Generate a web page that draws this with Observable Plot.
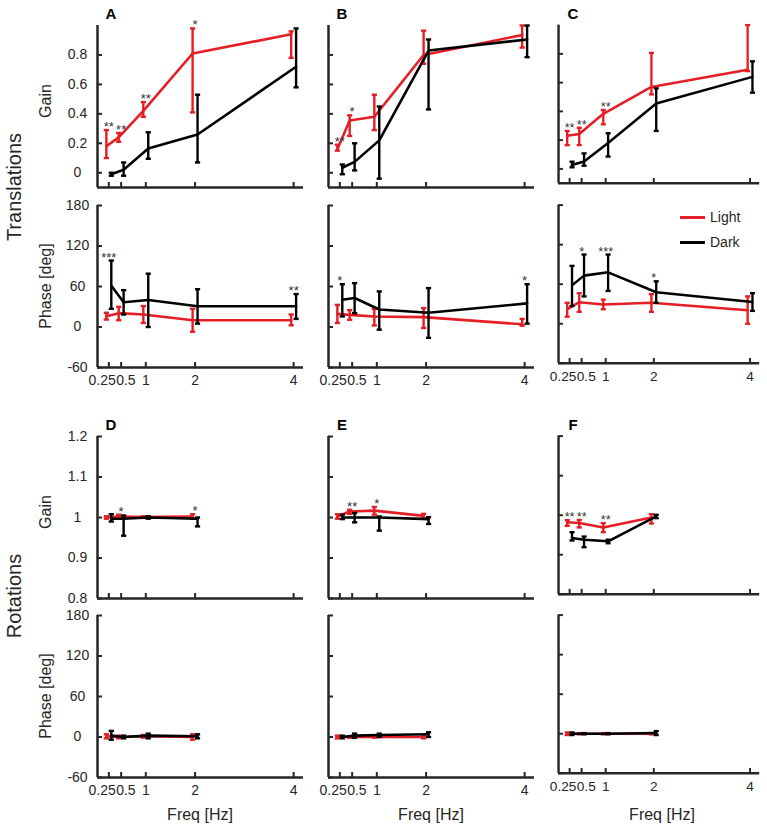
<!DOCTYPE html>
<html>
<head>
<meta charset="utf-8">
<script src="https://cdn.jsdelivr.net/npm/d3@7"></script>
<script src="https://cdn.jsdelivr.net/npm/@observablehq/plot@0.6"></script>
<style>
  html, body { margin: 0; padding: 0; background: #fff; }
  #fig { position: relative; width: 767px; height: 824px; overflow: hidden; background: #fff;
         font-family: Arial, "Liberation Sans", Helvetica, sans-serif; color: #262626; }
  .pnl { position: absolute; }
  .lbl { position: absolute; white-space: nowrap; transform: translate(-50%, -50%); line-height: 1; }
  .rot { transform: translate(-50%, -50%) rotate(-90deg); }
  .sw { position: absolute; height: 3px; }
</style>
</head>
<body>
<div id="fig"></div>
<script>
// ---------------- data ----------------
const freqs = [0.25, 0.5, 1, 2, 4];
const rotFreqs = [0.25, 0.5, 1, 2];
const freqTickLabels = ["0.25", "0.5", "1", "2", "4"];

const gainTicksT = [0, 0.2, 0.4, 0.6, 0.8];
const phaseTicks = [-60, 0, 60, 120, 180];
const gainTicksR = [0.8, 0.9, 1, 1.1, 1.2];

// Translations – gain (A, B, C)
const tGainA_light   = [0.18, 0.24, 0.42, 0.81, 0.94];
const tGainA_lightLo = [0.10, 0.21, 0.38, 0.41, 0.78];
const tGainA_lightHi = [0.29, 0.27, 0.48, 0.98, 0.96];
const tGainA_dark    = [-0.01, 0.02, 0.165, 0.26, 0.72];
const tGainA_darkLo  = [-0.02, -0.02, 0.095, 0.07, 0.58];
const tGainA_darkHi  = [0.0, 0.07, 0.275, 0.53, 0.98];
const tGainA_stars   = ["**", "**", "**", "*", ""];

const tGainB_light   = [0.16, 0.355, 0.38, 0.80, 0.935];
const tGainB_lightLo = [0.15, 0.25, 0.29, 0.74, 0.85];
const tGainB_lightHi = [0.19, 0.39, 0.53, 0.965, 1.0];
const tGainB_dark    = [0.034, 0.074, 0.22, 0.83, 0.905];
const tGainB_darkLo  = [-0.01, 0.016, -0.04, 0.43, 0.785];
const tGainB_darkHi  = [0.056, 0.2, 0.45, 0.905, 1.0];
const tGainB_stars   = ["**", "*", "", "", ""];

const tGainC_light   = [0.23, 0.243, 0.383, 0.57, 0.69];
const tGainC_lightLo = [0.165, 0.165, 0.31, 0.518, 0.68];
const tGainC_lightHi = [0.264, 0.286, 0.41, 0.807, 1.0];
const tGainC_dark    = [0.027, 0.052, 0.18, 0.455, 0.64];
const tGainC_darkLo  = [0.011, 0.022, 0.086, 0.264, 0.53];
const tGainC_darkHi  = [0.05, 0.108, 0.248, 0.56, 0.748];
const tGainC_stars   = ["**", "**", "**", "", ""];

// Translations – phase (A, B, C)
const tPhaseA_light   = [16, 20.5, 18.5, 10, 10];
const tPhaseA_lightLo = [11, 10, 6, -7, 2.5];
const tPhaseA_lightHi = [21, 30, 31, 27, 18.5];
const tPhaseA_dark    = [61, 36.6, 40, 30.7, 30.7];
const tPhaseA_darkLo  = [27, 18.5, 0, 5, 12];
const tPhaseA_darkHi  = [98.5, 54.6, 79, 56, 48.8];
const tPhaseA_stars   = ["***", "", "", "", "**"];

const tPhaseB_light   = [19.5, 18, 15.6, 14.6, 4];
const tPhaseB_lightLo = [6, 10.7, 2.4, -1.5, 2];
const tPhaseB_lightHi = [32.7, 25, 27, 28, 12];
const tPhaseB_dark    = [40.5, 43, 26, 21, 35];
const tPhaseB_darkLo  = [15.6, 20.5, -4, -16, 5];
const tPhaseB_darkHi  = [63.4, 65, 52.7, 57.6, 63.4];
const tPhaseB_stars   = ["*", "", "", "", "*"];

const tPhaseC_light   = [22, 32.7, 29.3, 31.7, 20.5];
const tPhaseC_lightLo = [10.7, 18, 22, 18, 0];
const tPhaseC_lightHi = [31.7, 46.3, 36.6, 44.9, 41.5];
const tPhaseC_dark    = [58.5, 73, 78, 47.8, 33];
const tPhaseC_darkLo  = [26.8, 41.5, 49.8, 31.7, 19.5];
const tPhaseC_darkHi  = [87.8, 105, 105, 64.4, 46.3];
const tPhaseC_stars   = ["", "*", "***", "*", ""];

// Rotations – gain (D, E, F)
const rGainD_light   = [1.0, 1.0025, 1.001, 1.0025];
const rGainD_lightLo = [0.997, 0.998, 0.999, 0.997];
const rGainD_lightHi = [1.003, 1.007, 1.003, 1.008];
const rGainD_dark    = [0.997, 0.997, 1.0, 0.997];
const rGainD_darkLo  = [0.99, 0.955, 0.997, 0.978];
const rGainD_darkHi  = [1.008, 1.005, 1.003, 1.0];
const rGainD_stars   = ["", "*", "", "*"];

const rGainE_light   = [1.0025, 1.015, 1.017, 1.004];
const rGainE_lightLo = [0.997, 1.009, 1.007, 0.998];
const rGainE_lightHi = [1.008, 1.019, 1.026, 1.009];
const rGainE_dark    = [1.0, 1.0, 1.0, 0.996];
const rGainE_darkLo  = [0.996, 0.988, 0.9675, 0.984];
const rGainE_darkHi  = [1.007, 1.011, 1.0025, 1.001];
const rGainE_stars   = ["", "**", "*", ""];

const rGainF_light   = [0.982, 0.98, 0.969, 0.994];
const rGainF_lightLo = [0.973, 0.969, 0.957, 0.979];
const rGainF_lightHi = [0.9875, 0.988, 0.98, 1.0025];
const rGainF_dark    = [0.9425, 0.938, 0.934, 0.997];
const rGainF_darkLo  = [0.936, 0.919, 0.929, 0.9925];
const rGainF_darkHi  = [0.957, 0.946, 0.938, 1.001];
const rGainF_stars   = ["**", "**", "**", ""];

// Rotations – phase (D, E, F)
const rPhaseD_light   = [1, 0, 1, 0];
const rPhaseD_lightLo = [-2, -2, -1, -4];
const rPhaseD_lightHi = [4, 2, 3, 4];
const rPhaseD_dark    = [2, 0, 2, 1];
const rPhaseD_darkLo  = [-4, -2, -2, -2];
const rPhaseD_darkHi  = [9, 2, 5, 4];
const rPhaseD_stars   = ["", "", "", ""];

const rPhaseE_light   = [0, 0, 0, 0];
const rPhaseE_lightLo = [-2, -1, -1, -2];
const rPhaseE_lightHi = [2, 1, 1, 2];
const rPhaseE_dark    = [0, 2, 3, 4];
const rPhaseE_darkLo  = [-2, -1, 0, 0];
const rPhaseE_darkHi  = [2, 5, 5, 7];
const rPhaseE_stars   = ["", "", "", ""];

const rPhaseF_light   = [0, 0, 0, 0];
const rPhaseF_lightLo = [-2, -1, -1, -1];
const rPhaseF_lightHi = [2, 1, 1, 1];
const rPhaseF_dark    = [0, 0, 0, 1];
const rPhaseF_darkLo  = [-2, -1, -1, -2];
const rPhaseF_darkHi  = [2, 1, 1, 4];
const rPhaseF_stars   = ["", "", "", ""];

const seriesNames = ["Light", "Dark"];
const panelLetters = ["A", "B", "C", "D", "E", "F"];
const rowTitles = ["Translations", "Rotations"];

// ---------------- style / layout ----------------
const AXIS = "#262626";
const RED = "#e41e24";
const BLACK = "#000000";
const X_DOMAIN = [0.02, 4.2];
const DODGE = 0.05;
const FW = 206, FH = 162;
const ML = 40, MR = 8, MT = 16, MB = 30;
const colLeft = [97, 328, 559];
const rowTop = [25, 205, 436, 615];
const FONT = 'Arial, "Liberation Sans", Helvetica, sans-serif';

const fig = document.getElementById("fig");

const capSymbol = {
  draw(ctx, size) {
    const r = Math.sqrt(size / Math.PI);
    ctx.moveTo(-r, 0);
    ctx.lineTo(r, 0);
  }
};

function seriesMarks(data, color) {
  return [
    Plot.ruleX(data, {x: "x", y1: "lo", y2: "hi", stroke: color, strokeWidth: 2.4}),
    Plot.dot(data, {x: "x", y: "lo", symbol: capSymbol, r: 2.6, stroke: color, strokeWidth: 2.4, fill: "none"}),
    Plot.dot(data, {x: "x", y: "hi", symbol: capSymbol, r: 2.6, stroke: color, strokeWidth: 2.4, fill: "none"}),
    Plot.line(data, {x: "x", y: "y", stroke: color, strokeWidth: 2.6})
  ];
}

function panel(o) {
  const L = o.fr.map((f, i) => ({x: f - DODGE, y: o.light[i], lo: o.lightLo[i], hi: o.lightHi[i]}));
  const D = o.fr.map((f, i) => ({x: f + DODGE, y: o.dark[i], lo: o.darkLo[i], hi: o.darkHi[i]}));
  const S = o.fr.map((f, i) => ({x: f, y: Math.max(o.lightHi[i], o.darkHi[i]), t: o.stars[i]})).filter(d => d.t);
  const lab = d => freqTickLabels[freqs.indexOf(d)];
  const marks = [
    Plot.ruleX([X_DOMAIN[0]], {stroke: AXIS, strokeWidth: 2.5}),
    Plot.ruleY([o.yDomain[0]], {stroke: AXIS, strokeWidth: 2.5}),
    Plot.tickX(freqs, {x: d => d, insetTop: FH - 5, stroke: AXIS, strokeWidth: 2}),
    Plot.tickY(o.yTicks, {y: d => d, insetRight: FW - 5, stroke: AXIS, strokeWidth: 2}),
    ...seriesMarks(L, RED),
    ...seriesMarks(D, BLACK),
    Plot.text(S, {x: "x", y: "y", text: "t", lineAnchor: "bottom", dy: 1, fontSize: 13, fill: "#333"})
  ];
  if (o.xLabels) {
    const common = {tickSize: 0, tickPadding: 8, fontSize: 14, fill: AXIS, tickFormat: lab, label: null};
    marks.push(
      Plot.axisX([1, 2, 4], {...common}),
      Plot.axisX([0.25], {...common, textAnchor: "end", dx: 7}),
      Plot.axisX([0.5], {...common, textAnchor: "start", dx: -5})
    );
  }
  if (o.yLabels) {
    marks.push(Plot.axisY(o.yTicks, {tickSize: 0, tickPadding: 20, textAnchor: "middle", fontSize: 14,
      fill: AXIS, label: null, tickFormat: d => String(d)}));
  }
  const svg = Plot.plot({
    width: ML + FW + MR, height: MT + FH + MB,
    marginLeft: ML, marginRight: MR, marginTop: MT, marginBottom: MB,
    style: {background: "transparent", overflow: "visible", fontFamily: FONT, color: AXIS},
    x: {domain: X_DOMAIN, axis: null},
    y: {domain: o.yDomain, axis: null},
    marks
  });
  const wrap = document.createElement("div");
  wrap.className = "pnl";
  wrap.style.left = (colLeft[o.col] - ML) + "px";
  wrap.style.top = (rowTop[o.row] - MT) + "px";
  wrap.appendChild(svg);
  fig.appendChild(wrap);
}

const P = (row, col, fr, yDomain, yTicks, light, lightLo, lightHi, dark, darkLo, darkHi, stars) =>
  panel({row, col, fr, yDomain, yTicks, light, lightLo, lightHi, dark, darkLo, darkHi, stars,
         xLabels: row === 1 || row === 3, yLabels: col === 0});

P(0, 0, freqs, [-0.1, 1.0], gainTicksT, tGainA_light, tGainA_lightLo, tGainA_lightHi, tGainA_dark, tGainA_darkLo, tGainA_darkHi, tGainA_stars);
P(0, 1, freqs, [-0.1, 1.0], gainTicksT, tGainB_light, tGainB_lightLo, tGainB_lightHi, tGainB_dark, tGainB_darkLo, tGainB_darkHi, tGainB_stars);
P(0, 2, freqs, [-0.1, 1.0], gainTicksT, tGainC_light, tGainC_lightLo, tGainC_lightHi, tGainC_dark, tGainC_darkLo, tGainC_darkHi, tGainC_stars);
P(1, 0, freqs, [-60, 180], phaseTicks, tPhaseA_light, tPhaseA_lightLo, tPhaseA_lightHi, tPhaseA_dark, tPhaseA_darkLo, tPhaseA_darkHi, tPhaseA_stars);
P(1, 1, freqs, [-60, 180], phaseTicks, tPhaseB_light, tPhaseB_lightLo, tPhaseB_lightHi, tPhaseB_dark, tPhaseB_darkLo, tPhaseB_darkHi, tPhaseB_stars);
P(1, 2, freqs, [-60, 180], phaseTicks, tPhaseC_light, tPhaseC_lightLo, tPhaseC_lightHi, tPhaseC_dark, tPhaseC_darkLo, tPhaseC_darkHi, tPhaseC_stars);
P(2, 0, rotFreqs, [0.8, 1.2], gainTicksR, rGainD_light, rGainD_lightLo, rGainD_lightHi, rGainD_dark, rGainD_darkLo, rGainD_darkHi, rGainD_stars);
P(2, 1, rotFreqs, [0.8, 1.2], gainTicksR, rGainE_light, rGainE_lightLo, rGainE_lightHi, rGainE_dark, rGainE_darkLo, rGainE_darkHi, rGainE_stars);
P(2, 2, rotFreqs, [0.8, 1.2], gainTicksR, rGainF_light, rGainF_lightLo, rGainF_lightHi, rGainF_dark, rGainF_darkLo, rGainF_darkHi, rGainF_stars);
P(3, 0, rotFreqs, [-60, 180], phaseTicks, rPhaseD_light, rPhaseD_lightLo, rPhaseD_lightHi, rPhaseD_dark, rPhaseD_darkLo, rPhaseD_darkHi, rPhaseD_stars);
P(3, 1, rotFreqs, [-60, 180], phaseTicks, rPhaseE_light, rPhaseE_lightLo, rPhaseE_lightHi, rPhaseE_dark, rPhaseE_darkLo, rPhaseE_darkHi, rPhaseE_stars);
P(3, 2, rotFreqs, [-60, 180], phaseTicks, rPhaseF_light, rPhaseF_lightLo, rPhaseF_lightHi, rPhaseF_dark, rPhaseF_darkLo, rPhaseF_darkHi, rPhaseF_stars);

// ---------------- text labels ----------------
function label(text, x, y, size, opts = {}) {
  const d = document.createElement("div");
  d.className = "lbl" + (opts.rot ? " rot" : "");
  d.textContent = text;
  d.style.left = x + "px";
  d.style.top = y + "px";
  d.style.fontSize = size + "px";
  if (opts.bold) d.style.fontWeight = "bold";
  if (opts.color) d.style.color = opts.color;
  fig.appendChild(d);
}

panelLetters.forEach((t, i) => {
  const col = i % 3, row = i < 3 ? 0 : 2;
  label(t, colLeft[col] + 14, rowTop[row] - 12, 15, {bold: true, color: "#000"});
});

label(rowTitles[0], 14, 187, 20, {rot: true});
label(rowTitles[1], 14, 596, 20, {rot: true});
[0, 2].forEach(r => label("Gain", 46, rowTop[r] + FH * 0.47, 16, {rot: true}));
[1, 3].forEach(r => label("Phase [deg]", 46, rowTop[r] + FH * 0.5, 16, {rot: true}));
colLeft.forEach(x => label("Freq [Hz]", x + 103, 815, 16));

// legend (panel C phase)
[[RED, 217], [BLACK, 242]].forEach(([c, y], i) => {
  const s = document.createElement("div");
  s.className = "sw";
  s.style.left = "680px"; s.style.width = "25px";
  s.style.top = (y - 1.5) + "px";
  s.style.background = c;
  fig.appendChild(s);
  const t = document.createElement("div");
  t.className = "lbl";
  t.style.transform = "translate(0, -50%)";
  t.style.left = "710px"; t.style.top = y + "px"; t.style.fontSize = "14px";
  t.textContent = seriesNames[i];
  fig.appendChild(t);
});
</script>
</body>
</html>
